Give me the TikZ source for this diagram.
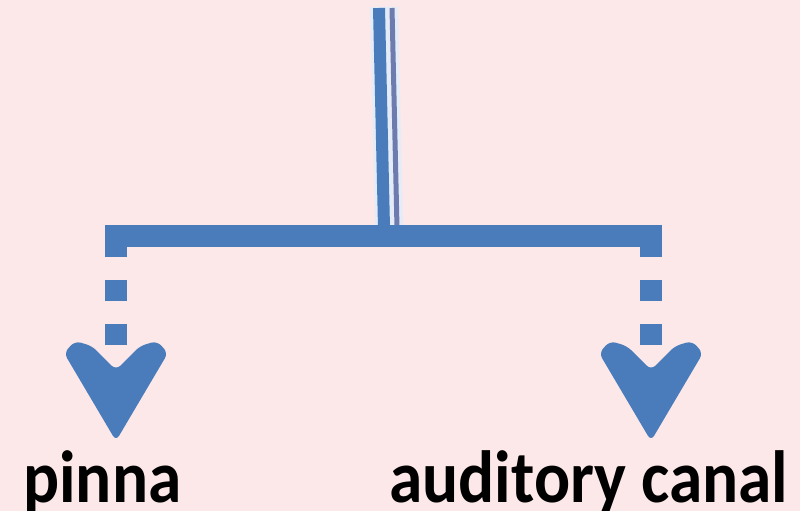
\documentclass[tikz,border=0pt]{standalone}
\usepackage{fontspec}
\usepackage{graphicx}
\setmainfont{Carlito}
\definecolor{bg}{HTML}{FCE8E8}
\definecolor{flow}{HTML}{4A7CBB}
\definecolor{flowthin}{HTML}{6E7BAE}
\definecolor{gapc}{HTML}{E4ECF8}
\newcommand{\tallword}[1]{\scalebox{1.02}[1.12]{#1}}
\tikzset{
  label/.style={font=\bfseries\fontsize{66}{66}\selectfont, text=black, inner sep=0pt},
  bar/.style={draw=flow, line width=22pt, line cap=rect},
  dashlink/.style={draw=flow, line width=22pt, dash pattern=on 21pt off 23pt},
  vhead/.pic={
    \fill[flow, rounded corners=6pt]
      (0,0) -- (-52,-88) -- (-41,-100) -- (-24,-95) -- (0,-71)
      -- (24,-95) -- (41,-100) -- (52,-88) -- cycle;
  }
}
\begin{document}
\begin{tikzpicture}[x=1pt, y=-1pt]
  \fill[bg] (0,0) rectangle (800,511);
  \useasboundingbox (0,0) rectangle (800,511);

  % key points of the tree
  \coordinate (top) at (384,7);
  \coordinate (join) at (389,226);
  \coordinate (lc) at (116,236);
  \coordinate (rc) at (651,236);
  \coordinate (ltip) at (116,441);
  \coordinate (rtip) at (651,441);
  \coordinate (lend) at (116,345);
  \coordinate (rend) at (651,345);

  % labels
  \node[label, anchor=base west] (pinna) at (23,502) {\tallword{pinna}};
  \node[label, anchor=base west] (canal) at (389,502) {\tallword{auditory canal}};

  % stem: a doubled line coming down from the top
  \draw[gapc, line width=28pt] (top) -- (join);
  \draw[flow, line width=12pt] (379,8) -- (384,228);
  \draw[flowthin, line width=5pt] (392,8) -- (397,228);

  % dashed branches
  \draw[dashlink] (lc) -- (lend);
  \draw[dashlink] (rc) -- (rend);

  % horizontal bar
  \draw[bar] (lc) -- (rc);

  % chevron heads
  \pic at (ltip) {vhead};
  \pic at (rtip) {vhead};
\end{tikzpicture}
\end{document}
